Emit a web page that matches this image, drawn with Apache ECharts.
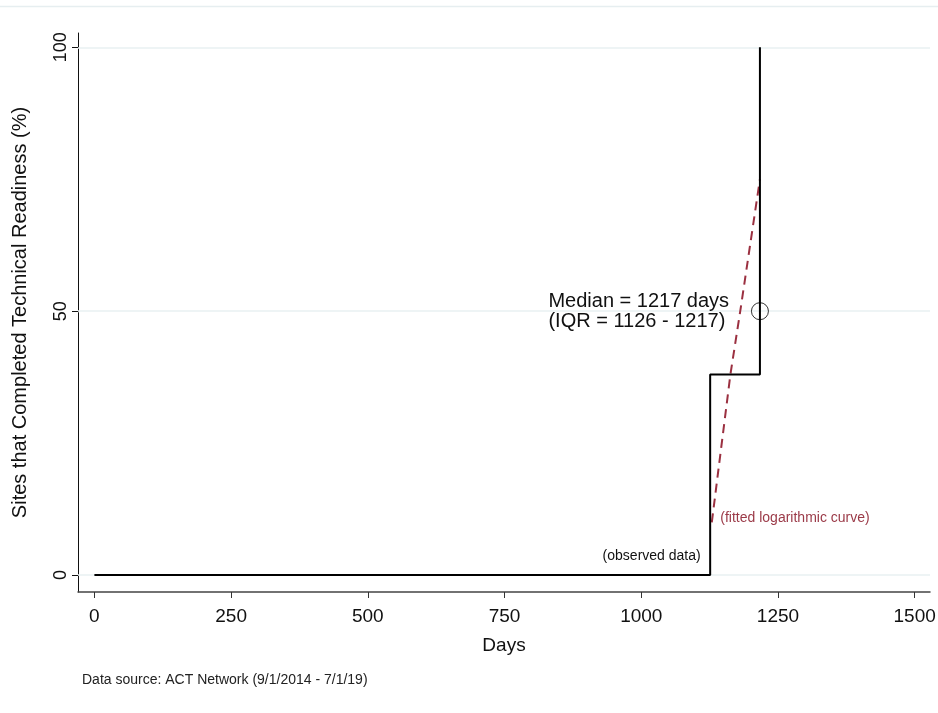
<!DOCTYPE html>
<html>
<head>
<meta charset="utf-8">
<script src="https://cdn.jsdelivr.net/npm/echarts@6/dist/echarts.min.js"></script>
<style>html,body{margin:0;padding:0;background:#fff;}#c{width:938px;height:713px;}</style>
</head>
<body>
<div id="c"></div>
<script>
const xTicks = [0, 250, 500, 750, 1000, 1250, 1500];
const yTicks = [0, 50, 100];
const observedDays = [0, 1126, 1126, 1217, 1217];
const observedPct = [0, 0, 38, 38, 100];
const fittedDays = [1129, 1163, 1181, 1217];
const fittedPct = [10, 38, 50, 75];
const medianDay = 1217;
const medianPct = 50;
const medianText = 'Median = 1217 days\n(IQR = 1126 - 1217)';
const fittedText = '(fitted logarithmic curve)';
const observedText = '(observed data)';
const sourceText = 'Data source: ACT Network (9/1/2014 - 7/1/19)';

const FONT = '"Liberation Sans", Arial, sans-serif';
const chart = echarts.init(document.getElementById('c'), null, {renderer: 'canvas'});

const obs = observedDays.map((d, i) => [d, observedPct[i]]);
const fit = fittedDays.map((d, i) => [d, fittedPct[i]]);

chart.setOption({
  animation: false,
  backgroundColor: '#fff',
  grid: {left: 78, right: 8, top: 33, bottom: 121, containLabel: false, outerBoundsMode: 'none'},
  xAxis: {
    type: 'value', min: -30, max: 1528,
    name: 'Days', nameLocation: 'middle', nameGap: 44,
    nameTextStyle: {fontFamily: FONT, fontSize: 19, color: '#111'},
    axisLine: {show: true, onZero: false, lineStyle: {color: '#444', width: 1.5}},
    axisTick: {show: true, length: 6, customValues: xTicks, lineStyle: {color: '#333'}},
    axisLabel: {customValues: xTicks, formatter: v => String(v), fontFamily: FONT, fontSize: 19, color: '#111', margin: 15},
    splitLine: {show: false}
  },
  yAxis: {
    type: 'value', min: -3.2, max: 102.7,
    name: 'Sites that Completed Technical Readiness (%)', nameLocation: 'middle', nameGap: 48, nameRotate: 90,
    nameTextStyle: {fontFamily: FONT, fontSize: 20, color: '#111'},
    axisLine: {show: true, onZero: false, lineStyle: {color: '#111', width: 1}},
    axisTick: {show: true, length: 6, customValues: yTicks, lineStyle: {color: '#111'}},
    axisLabel: {customValues: yTicks, formatter: v => String(v), rotate: 90, fontFamily: FONT, fontSize: 18, color: '#111', margin: 8},
    splitLine: {show: false}
  },
  series: [
    {
      type: 'line', data: obs, symbol: 'none', silent: true, z: 3,
      lineStyle: {color: '#000', width: 2},
      markLine: {
        silent: true, symbol: 'none', z: 1,
        label: {show: false},
        lineStyle: {color: '#e9f0f2', width: 1.5, type: 'solid'},
        data: yTicks.map(v => ({yAxis: v}))
      },
      markPoint: {
        silent: true, symbol: 'circle', symbolSize: 1,
        itemStyle: {color: 'rgba(0,0,0,0)'},
        data: [
          {coord: [medianDay, medianPct], label: {show: true, formatter: medianText, position: 'left', distance: 34, align: 'left', offset: [-177, 0], fontFamily: FONT, fontSize: 20, lineHeight: 20, color: '#111'}},
          {coord: [observedDays[1], 0], label: {show: true, formatter: observedText, position: 'left', distance: 9, offset: [0, -19], fontFamily: FONT, fontSize: 14, color: '#111'}}
        ]
      }
    },
    {
      type: 'line', data: fit, symbol: 'none', silent: true, z: 2,
      lineStyle: {color: '#9b3040', width: 2, type: [9, 6]},
      markPoint: {
        silent: true, symbol: 'circle', symbolSize: 1,
        itemStyle: {color: 'rgba(0,0,0,0)'},
        data: [
          {coord: [fittedDays[0], fittedPct[0]], label: {show: true, formatter: fittedText, position: 'right', distance: 8, offset: [0, -4], fontFamily: FONT, fontSize: 14, color: '#9b3a48'}}
        ]
      }
    },
    {
      type: 'scatter', data: [[medianDay, medianPct]], symbol: 'circle', symbolSize: 17, silent: true, z: 4,
      itemStyle: {color: 'rgba(0,0,0,0)', borderColor: '#000', borderWidth: 1}
    }
  ],
  graphic: [
    {type: 'line', shape: {x1: 0, y1: 6.5, x2: 938, y2: 6.5}, style: {stroke: '#e6eef0', lineWidth: 1.5}, silent: true},
    {type: 'text', left: 82, top: 673, style: {text: sourceText, font: '14px ' + FONT, fill: '#222'}, silent: true}
  ]
});
</script>
</body>
</html>
